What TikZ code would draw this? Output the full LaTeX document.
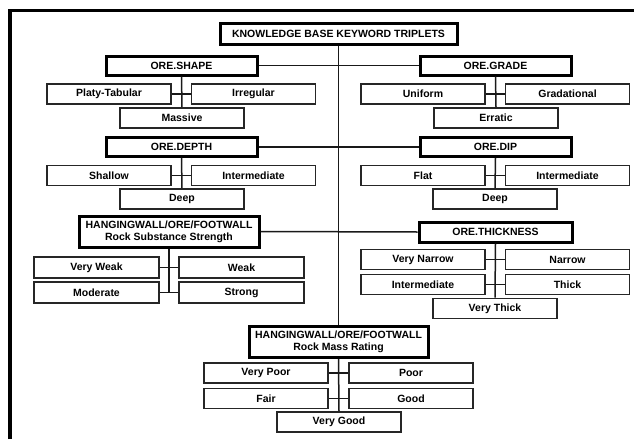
\documentclass[tikz,border=0pt]{standalone}
\usepackage{fontspec}
\setmainfont{Liberation Sans}
\usetikzlibrary{positioning}
\tikzset{
    headbox/.style={draw=black,line width=3pt,inner sep=0pt,align=center,font=\bfseries\fontsize{10.5}{12}\selectfont},
    itembox/.style={draw=black!85,line width=1.6pt,inner sep=0pt,minimum width=124pt,minimum height=20pt,font=\bfseries\fontsize{10.5}{12}\selectfont},
    link/.style={line width=1.5pt,draw=black!90},
    frameline/.style={line width=3.5pt,draw=black}
}

\begin{document}
\begin{tikzpicture}[x=1pt,y=-1pt]
  \useasboundingbox (0,0) rectangle (634,439);

  % frame
  \draw[frameline] (10,439) -- (10,10.5) -- (634,10.5);

  % root
  \node[headbox,minimum width=237pt,minimum height=21pt] (kb) at (338.5,33.5) {KNOWLEDGE BASE KEYWORD TRIPLETS};

  % ore shape / ore grade
  \node[headbox,minimum width=151pt,minimum height=19pt] (shape) at (181.5,65.5) {ORE.SHAPE};
  \node[headbox,minimum width=151pt,minimum height=19pt] (grade) at (495.5,65.5) {ORE.GRADE};
  \node[itembox] (platy)   at (109,94)   {Platy-Tabular};
  \node[itembox] (irreg)   at (253.5,94) {Irregular};
  \node[itembox] (massive) at (182,118)  {Massive};
  \node[itembox] (uniform) at (423,94)   {Uniform};
  \node[itembox] (gradl)   at (567.5,94) {Gradational};
  \node[itembox] (erratic) at (496,118)  {Erratic};

  % ore depth / ore dip
  \node[headbox,minimum width=151pt,minimum height=19pt] (depth) at (181.5,147) {ORE.DEPTH};
  \node[headbox,minimum width=151pt,minimum height=19pt] (dip)   at (495.5,147) {ORE.DIP};
  \node[itembox] (shallow) at (109,175.5)   {Shallow};
  \node[itembox] (dinter)  at (253.5,175.5) {Intermediate};
  \node[itembox] (ddeep)   at (182,199)     {Deep};
  \node[itembox] (flat)    at (423,175.5)   {Flat};
  \node[itembox] (pinter)  at (567.5,175.5) {Intermediate};
  \node[itembox] (pdeep)   at (495,199)     {Deep};

  % rock substance strength / ore thickness
  \node[headbox,minimum width=180pt,minimum height=31pt] (rss) at (169,231.5)
    {HANGINGWALL/ORE/FOOTWALL\\Rock Substance Strength};
  \node[headbox,minimum width=153pt,minimum height=20pt] (thick) at (495.5,232) {ORE.THICKNESS};
  \node[itembox,minimum width=125pt,minimum height=21pt] (vweak)  at (96.5,267.5)  {Very Weak};
  \node[itembox,minimum width=125pt,minimum height=21pt] (weak)   at (241.5,267.5) {Weak};
  \node[itembox,minimum width=125pt,minimum height=21pt] (moder)  at (96.5,292.5)  {Moderate};
  \node[itembox,minimum width=125pt,minimum height=21pt] (strong) at (241.5,292.5) {Strong};
  \node[itembox] (vnarrow) at (423,259.5)   {Very Narrow};
  \node[itembox] (narrow)  at (567.5,259.5) {Narrow};
  \node[itembox] (tinter)  at (423,284.5)   {Intermediate};
  \node[itembox] (tthick)  at (567.5,284.5) {Thick};
  \node[itembox] (vthick)  at (495,308.5)   {Very Thick};
  \coordinate (rssend) at (rss.south |- strong.west);

  % rock mass rating
  \node[headbox,minimum width=179pt,minimum height=31pt] (rmr) at (338.5,342)
    {HANGINGWALL/ORE/FOOTWALL\\Rock Mass Rating};
  \node[itembox] (vpoor) at (266,373)   {Very Poor};
  \node[itembox] (poor)  at (411,373)   {Poor};
  \node[itembox] (fair)  at (266,398.5) {Fair};
  \node[itembox] (good)  at (411,398.5) {Good};
  \node[itembox] (vgood) at (339,422)   {Very Good};

  % trunk and branches
  \draw[link] (kb.south) -- (rmr.north);
  \draw[link] (rmr.south) -- (vgood.north);
  \draw[link] (shape.east) -- (grade.west);
  \draw[link] (depth.east) -- (dip.west);
  \draw[link] (rss.east) -- (thick.west);

  % groups
  \draw[link] (shape.south) -- (massive.north);
  \draw[link] (platy.east) -- (irreg.west);
  \draw[link] (grade.south) -- (erratic.north);
  \draw[link] (uniform.east) -- (gradl.west);
  \draw[link] (depth.south) -- (ddeep.north);
  \draw[link] (shallow.east) -- (dinter.west);
  \draw[link] (dip.south) -- (pdeep.north);
  \draw[link] (flat.east) -- (pinter.west);
  \draw[link] (rss.south) -- (rssend);
  \draw[link] (vweak.east) -- (weak.west);
  \draw[link] (moder.east) -- (strong.west);
  \draw[link] (thick.south) -- (vthick.north);
  \draw[link] (vnarrow.east) -- (narrow.west);
  \draw[link] (tinter.east) -- (tthick.west);
  \draw[link] (vpoor.east) -- (poor.west);
  \draw[link] (fair.east) -- (good.west);
\end{tikzpicture}
\end{document}
